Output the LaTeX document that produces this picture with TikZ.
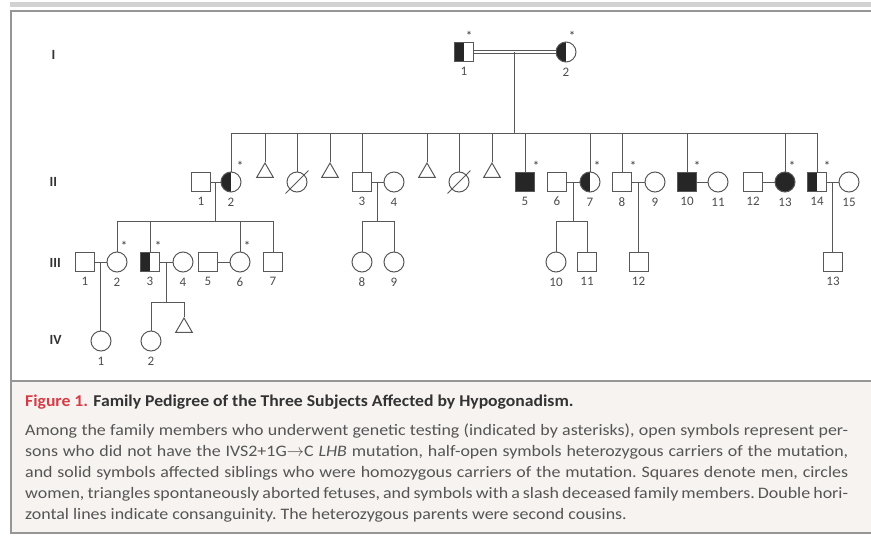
\documentclass[tikz,border=0pt]{standalone}
\usepackage{fontspec}
\setmainfont{Carlito}
\newfontfamily\titlefont[FakeStretch=1.07]{Carlito}
\newfontfamily\capfont[FakeStretch=1.12]{Carlito}
\usetikzlibrary{positioning,shapes.geometric}

\definecolor{symgray}{RGB}{88,88,88}
\definecolor{framegray}{RGB}{150,150,150}
\definecolor{bandgray}{RGB}{210,210,210}
\definecolor{capback}{RGB}{246,243,240}
\definecolor{figred}{RGB}{214,60,72}
\definecolor{captext}{RGB}{85,85,85}

\tikzset{
  sym/.style={draw=symgray, line width=1pt, fill=white, inner sep=0pt},
  male/.style={sym, rectangle, minimum size=19pt},
  female/.style={sym, circle, minimum size=20pt},
  fetus/.style={sym, regular polygon, regular polygon sides=3, minimum size=19pt},
  carrier/.style={path picture={\fill[black!85] (path picture bounding box.south west) rectangle (path picture bounding box.north);}},
  affected/.style={fill=black!85},
  link/.style={draw=symgray, line width=1pt},
  num/.style={text=black!70, inner sep=1pt, font=\fontsize{13}{15}\selectfont},
  ast/.style={text=black!80, inner sep=0pt, font=\fontsize{13}{14}\selectfont},
  gen/.style={anchor=west, text=black!80, font=\bfseries\fontsize{14}{16}\selectfont}
}

\begin{document}
\begin{tikzpicture}[x=1pt, y=-1pt]
\useasboundingbox (0,0) rectangle (871,536);

% frame and caption panel
\fill[bandgray] (10,2) rectangle (871,7);
\fill[capback] (11,381) rectangle (871,533);
\draw[framegray, line width=2pt] (871,11) -- (11,11) -- (11,533) -- (871,533);
\draw[framegray, line width=1.5pt] (11,381) -- (871,381);

% generations
\node[gen] (gI) at (48,55) {I};
\node[gen] (gII) at (46,182) {II};
\node[gen] (gIII) at (46,263) {III};
\node[gen] (gIV) at (46,340) {IV};

\coordinate (s2) at (0,133);
\coordinate (s3) at (0,221);
\coordinate (s4) at (0,302);

% I
\node[male, carrier] (i1) at (464,52) {};
\node[female, carrier] (i2) at (566,52) {};

% II
\node[male] (ii1) at (201,182) {};
\node[female, carrier] (ii2) at (231,182) {};
\node[fetus] (f1) at (265,172.5) {};
\node[female] (d1) at (297,182) {};
\node[fetus] (f2) at (330,172.5) {};
\node[male] (ii3) at (362,182) {};
\node[female] (ii4) at (394,182) {};
\node[fetus] (f3) at (427,172.5) {};
\node[female] (d2) at (459,182) {};
\node[fetus] (f4) at (492,172.5) {};
\node[male, affected] (ii5) at (525,182) {};
\node[male] (ii6) at (557,182) {};
\node[female, carrier] (ii7) at (590,182) {};
\node[male] (ii8) at (622,182) {};
\node[female] (ii9) at (655,182) {};
\node[male, affected] (ii10) at (687,182) {};
\node[female] (ii11) at (718,182) {};
\node[male] (ii12) at (753,182) {};
\node[female, affected] (ii13) at (785,182) {};
\node[male, carrier] (ii14) at (817,182) {};
\node[female] (ii15) at (849,182) {};

% III
\node[male] (iii1) at (85,262) {};
\node[female] (iii2) at (117,262) {};
\node[male, carrier] (iii3) at (150,262) {};
\node[female] (iii4) at (183,262) {};
\node[male] (iii5) at (208,262) {};
\node[female] (iii6) at (240,262) {};
\node[male] (iii7) at (273,262) {};
\node[female] (iii8) at (362,262) {};
\node[female] (iii9) at (394,262) {};
\node[female] (iii10) at (556,262) {};
\node[male] (iii11) at (587,262) {};
\node[male] (iii12) at (638.5,262) {};
\node[male] (iii13) at (833,262) {};

% IV
\node[female] (iv1) at (101,341) {};
\node[female] (iv2) at (151,341) {};
\node[fetus] (f5) at (184,327.5) {};

% deceased
\draw[link] ([shift={(-4,4)}]d1.south west) -- ([shift={(4,-4)}]d1.north east);
\draw[link] ([shift={(-4,4)}]d2.south west) -- ([shift={(4,-4)}]d2.north east);

% numbers and tested members
\foreach \p/\t in {i1/1,i2/2,ii1/1,ii2/2,ii3/3,ii4/4,ii5/5,ii6/6,ii7/7,ii8/8,ii9/9,ii10/10,ii11/11,ii12/12,ii13/13,ii14/14,ii15/15,iii1/1,iii2/2,iii3/3,iii4/4,iii5/5,iii6/6,iii7/7,iii8/8,iii9/9,iii10/10,iii11/11,iii12/12,iii13/13,iv1/1,iv2/2}
  \node[num, below=4pt of \p] (n\p) {\t};
\foreach \p/\dx in {i1/5,i2/6,ii2/9,ii5/11,ii7/7,ii8/11,ii10/10,ii13/7,ii14/10,iii2/7,iii3/8,iii6/7}
  \node[ast] (a\p) at ([shift={(\dx,-16)}]\p.center) {*};

% lines of descent
\draw[link, double=white, double distance=1.6pt] (i1) -- coordinate (m1) (i2);
\draw[link] (m1) -- (m1 |- s2);
\draw[link] (ii2.north |- s2) -- (ii14.north |- s2);
\foreach \p in {ii2,f1,d1,f2,ii3,f3,d2,f4,ii5,ii7,ii8,ii10,ii13,ii14}
  \draw[link] (\p.north |- s2) -- (\p.north);

\draw[link] (ii1) -- coordinate (m2) (ii2);
\draw[link] (m2) -- (m2 |- s3);
\draw[link] (ii3) -- coordinate (m3) (ii4);
\draw[link] (m3) -- (m3 |- s3);
\draw[link] (ii6) -- coordinate (m4) (ii7);
\draw[link] (m4) -- (m4 |- s3);
\draw[link] (ii8) -- coordinate (m5) (ii9);
\draw[link] (m5) -- (m5 |- iii12.north);
\draw[link] (ii10) -- (ii11);
\draw[link] (ii12) -- (ii13);
\draw[link] (ii14) -- coordinate (m6) (ii15);
\draw[link] (m6) -- (m6 |- iii13.north);

\draw[link] (iii2.north |- s3) -- (iii7.north |- s3);
\draw[link] (iii8.north |- s3) -- (iii9.north |- s3);
\draw[link] (iii10.north |- s3) -- (iii11.north |- s3);
\foreach \p in {iii2,iii3,iii6,iii7,iii8,iii9,iii10,iii11}
  \draw[link] (\p.north |- s3) -- (\p.north);

\draw[link] (iii1) -- coordinate (m7) (iii2);
\draw[link] (m7) -- (m7 |- iv1.north);
\draw[link] (iii3) -- coordinate (m8) (iii4);
\draw[link] (m8) -- (m8 |- s4);
\draw[link] (iii5) -- (iii6);
\draw[link] (iv2.north |- s4) -- (f5.north |- s4);
\foreach \p in {iv2,f5}
  \draw[link] (\p.north |- s4) -- (\p.north);

% caption
\node[anchor=west, inner sep=0pt, text=black!80, font=\titlefont\bfseries\fontsize{16.5}{20}\selectfont] (title) at (25,402)
  {\textcolor{figred}{Figure 1.} Family Pedigree of the Three Subjects Affected by Hypogonadism.};
\node[anchor=north west, inner sep=0pt, text width=823pt, align=justify, text=captext, font=\capfont\fontsize{16}{21}\selectfont] (body) at (25,424)
  {\frenchspacing\hyphenpenalty=10000\exhyphenpenalty=10000
  Among the family members who underwent genetic testing (indicated by asterisks), open symbols represent per-\linebreak
  sons who did not have the IVS2+1G$\rightarrow$C \textit{LHB} mutation, half-open symbols heterozygous carriers of the mutation,\linebreak
  and solid symbols affected siblings who were homozygous carriers of the mutation. Squares denote men, circles\linebreak
  women, triangles spontaneously aborted fetuses, and symbols with a slash deceased family members. Double hori-\linebreak
  zontal lines indicate consanguinity. The heterozygous parents were second cousins.};
\end{tikzpicture}
\end{document}
